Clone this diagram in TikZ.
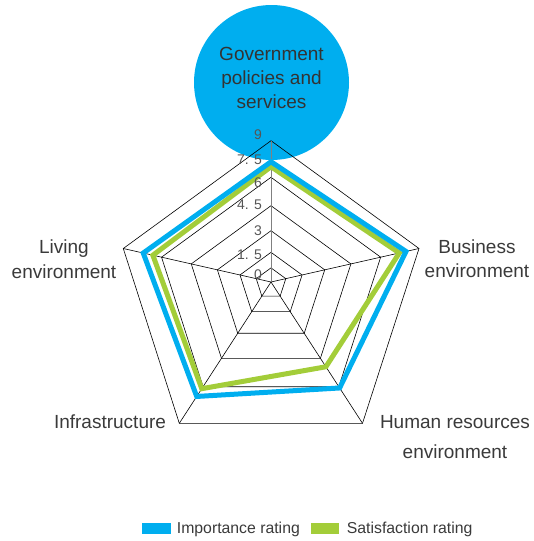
\documentclass[tikz,border=0pt]{standalone}
\usepackage{fontspec}
\setmainfont{Liberation Sans}
\usetikzlibrary{calc}
\definecolor{impblue}{HTML}{00AEEF}
\definecolor{satgreen}{HTML}{A3CD39}
\definecolor{textgray}{HTML}{3A3A3A}
\definecolor{tickgray}{HTML}{555555}
\tikzset{
  ring/.style={draw=black, line width=0.6pt},
  spoke/.style={draw=black, line width=0.6pt},
  axislabel/.style={font=\fontsize{19}{23.5}\selectfont, text=textgray, align=center},
  ticklabel/.style={font=\fontsize{14}{14}\selectfont, text=tickgray, anchor=east, inner sep=0pt},
  rating/.style={line width=5pt, line join=miter},
  legendtext/.style={font=\fontsize{15.8}{15.8}\selectfont, text=textgray, anchor=west, inner sep=0pt},
}
\begin{document}
\begin{tikzpicture}[x=1pt,y=-1pt]
\useasboundingbox (0,0) rectangle (533,541);

\node[circle, fill=impblue, minimum size=155pt, inner sep=0pt] (gpcircle) at (271.5,82.5) {};
\node[axislabel, font=\fontsize{19}{23.7}\selectfont, text=black!80] (gptext) at (271.5,78) {Government\\policies and\\services};

\coordinate (c) at (271,282);
\coordinate (gp) at (271,140.7);
\coordinate (be) at (419,248.5);
\coordinate (hr) at (362.5,423.3);
\coordinate (in) at (179.3,423.3);
\coordinate (le) at (123.3,248.5);

% rings
\foreach \s in {0.1,0.21,0.363,0.54,0.741,1}
  \draw[ring] ($(c)!\s!(gp)$) -- ($(c)!\s!(be)$) -- ($(c)!\s!(hr)$)
    -- ($(c)!\s!(in)$) -- ($(c)!\s!(le)$) -- cycle;

% spokes
\draw[spoke] (c) -- (be);
\draw[spoke] (c) -- (hr);
\draw[spoke] (c) -- (in);
\draw[spoke] (c) -- (le);
\draw[line width=1pt, draw=gray] (c) -- (gp);

% ratings
\draw[rating, satgreen] ($(c)!0.816!(gp)$) -- ($(c)!0.867!(be)$) -- ($(c)!0.6!(hr)$)
  -- ($(c)!0.755!(in)$) -- ($(c)!0.8!(le)$) -- cycle;
\draw[rating, impblue] ($(c)!0.851!(gp)$) -- ($(c)!0.912!(be)$) -- ($(c)!0.75!(hr)$)
  -- ($(c)!0.81!(in)$) -- ($(c)!0.865!(le)$) -- cycle;

\node[ticklabel] (t9) at (262,134.3) {9};
\node[ticklabel] (t75) at (262,159.3) {7. 5};
\node[ticklabel] (t6) at (262,182.7) {6};
\node[ticklabel] (t45) at (262,205) {4. 5};
\node[ticklabel] (t3) at (262,230.7) {3};
\node[ticklabel] (t15) at (262,255) {1. 5};
\node[ticklabel] (t0) at (262,275) {0};

\node[axislabel] (belabel) at (477,258.5) {Business\\environment};
\node[axislabel, font=\fontsize{19}{30}\selectfont] (hrlabel) at (455,436.7) {Human resources\\environment};
\node[axislabel] (inlabel) at (110,421.7) {Infrastructure};
\node[axislabel, font=\fontsize{19}{25}\selectfont] (lelabel) at (64,259) {Living\\environment};

% legend
\fill[impblue] (142.3,523.3) rectangle (170.7,534.3);
\node[legendtext] (implabel) at (176.7,529) {Importance rating};
\fill[satgreen] (311,523.3) rectangle (339.3,534.3);
\node[legendtext] (satlabel) at (346.7,529) {Satisfaction rating};
\end{tikzpicture}
\end{document}
